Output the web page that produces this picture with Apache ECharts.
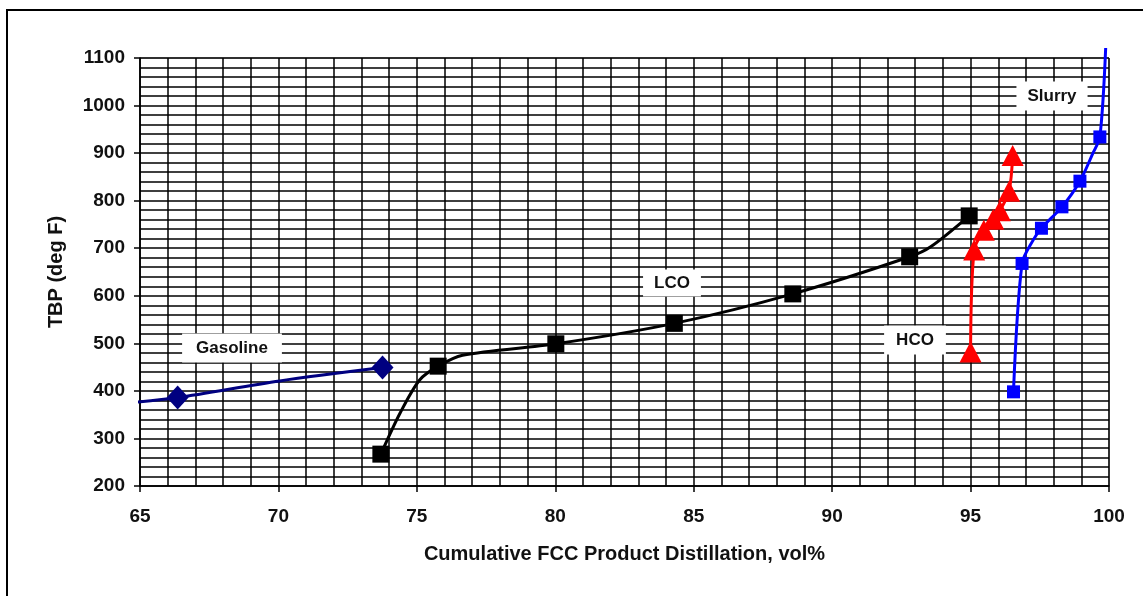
<!DOCTYPE html>
<html>
<head>
<meta charset="utf-8">
<script src="https://cdn.jsdelivr.net/npm/echarts@6/dist/echarts.min.js"></script>
<style>
  html, body { margin: 0; padding: 0; background: #fff; }
  #tbpChart { width: 1143px; height: 596px; }
</style>
</head>
<body>
<div id="tbpChart"></div>
<script>
// axis ticks
const xTicks = [65, 70, 75, 80, 85, 90, 95, 100]
const yTicks = [200, 300, 400, 500, 600, 700, 800, 900, 1000, 1100]

// curve points (vol%, deg F), marker points separately
const gasolineLine = [[64.64, 375], [66.36, 386], [70.05, 421], [73.76, 449]]
const gasolineMarks = [[66.36, 386], [73.76, 449]]

const lcoLine = [[73.7, 267], [74.4, 354], [75.1, 423], [75.77, 452], [76.65, 475], [80.02, 499],
  [84.3, 542], [88.58, 604], [92.8, 682], [93.56, 703], [94.95, 768]]
const lcoMarks = [[73.7, 267], [75.77, 452], [80.02, 499], [84.3, 542], [88.58, 604], [92.8, 682], [94.95, 768]]

const hcoLine = [[95.0, 482], [95.13, 696], [95.48, 738], [95.82, 761], [96.06, 779], [96.39, 820], [96.52, 895]]
const hcoMarks = [[95.0, 482], [95.13, 696], [95.48, 738], [95.82, 761], [96.06, 779], [96.39, 820], [96.52, 895]]

const slurryLine = [[96.55, 398], [96.86, 668], [97.26, 717], [97.56, 742], [98.3, 787], [98.95, 841],
  [99.42, 900], [99.67, 934], [99.88, 1121]]
const slurryMarks = [[96.55, 398], [96.86, 668], [97.56, 742], [98.3, 787], [98.95, 841], [99.67, 934]]

const FONT = 'Arial, "Liberation Sans", sans-serif'

function lineSeries(name, data, color) {
  return {
    name: name,
    type: 'line',
    data: data,
    smooth: 0.3,
    showSymbol: false,
    clip: false,
    lineStyle: { color: color, width: 3 },
    z: 3
  }
}

function markSeries(name, data, color, symbol, size) {
  return {
    name: name,
    type: 'scatter',
    data: data,
    symbol: symbol,
    symbolSize: size,
    clip: false,
    itemStyle: { color: color, opacity: 1 },
    z: 4
  }
}

function tag(text, x, y, pad) {
  return {
    type: 'text',
    x: x,
    y: y,
    z: 50,
    style: {
      text: text,
      font: 'bold 17px ' + FONT,
      fill: '#111',
      align: 'center',
      verticalAlign: 'middle',
      backgroundColor: '#fff',
      padding: pad
    }
  }
}

let option = {
  animation: false,
  backgroundColor: '#fff',
  grid: {
    left: 140,
    right: 34,
    top: 58,
    bottom: 110,
    show: true,
    borderColor: '#808080',
    borderWidth: 1
  },
  xAxis: {
    type: 'value',
    min: xTicks[0],
    max: xTicks[xTicks.length - 1],
    interval: 5,
    name: 'Cumulative FCC Product Distillation, vol%',
    nameLocation: 'middle',
    nameGap: 58,
    nameTextStyle: { fontFamily: FONT, fontWeight: 'bold', fontSize: 20, color: '#111' },
    axisLine: { lineStyle: { color: '#000', width: 1.5 } },
    axisTick: { show: true, length: 6, lineStyle: { color: '#000', width: 1.5 } },
    minorTick: { show: false, splitNumber: 5 },
    axisLabel: { margin: 21, fontFamily: FONT, fontWeight: 'bold', fontSize: 19, color: '#111',
      formatter: v => String(v) },
    splitLine: { show: true, lineStyle: { color: '#000', width: 1.5 } },
    minorSplitLine: { show: true, lineStyle: { color: '#000', width: 1.5 } }
  },
  yAxis: {
    type: 'value',
    min: yTicks[0],
    max: yTicks[yTicks.length - 1],
    interval: 100,
    name: 'TBP (deg F)',
    nameLocation: 'middle',
    nameGap: 74,
    nameTextStyle: { fontFamily: FONT, fontWeight: 'bold', fontSize: 20, color: '#111' },
    axisLine: { show: true, lineStyle: { color: '#000', width: 1.5 } },
    axisTick: { show: true, length: 6, lineStyle: { color: '#000', width: 1.5 } },
    minorTick: { show: false, splitNumber: 5 },
    axisLabel: { margin: 15, fontFamily: FONT, fontWeight: 'bold', fontSize: 19, color: '#111',
      formatter: v => String(v) },
    splitLine: { show: true, lineStyle: { color: '#000', width: 1.5 } },
    minorSplitLine: { show: true, lineStyle: { color: '#000', width: 1.5 } }
  },
  graphic: [
    {
      type: 'rect',
      shape: { x: 7, y: 10, width: 1200, height: 700 },
      style: { fill: 'none', stroke: '#000', lineWidth: 2 },
      silent: true
    },
    tag('Gasoline', 232, 348, [6, 14]),
    tag('LCO', 672, 283, [5, 11]),
    tag('HCO', 915, 340, [6, 12]),
    tag('Slurry', 1052, 96, [6, 11])
  ],
  series: [
    lineSeries('Gasoline', gasolineLine, '#000080'),
    lineSeries('LCO', lcoLine, '#000'),
    lineSeries('HCO', hcoLine, '#ff0000'),
    lineSeries('Slurry', slurryLine, '#0000ff'),
    markSeries('Gasoline', gasolineMarks, '#000080', 'diamond', [22, 24]),
    markSeries('LCO', lcoMarks, '#000', 'rect', 17),
    markSeries('HCO', hcoMarks, '#ff0000', 'triangle', [22, 21]),
    markSeries('Slurry', slurryMarks, '#0000ff', 'rect', 13)
  ]
}

let myChart = echarts.init(document.getElementById('tbpChart'))
myChart.setOption(option, true)
</script>
</body>
</html>
